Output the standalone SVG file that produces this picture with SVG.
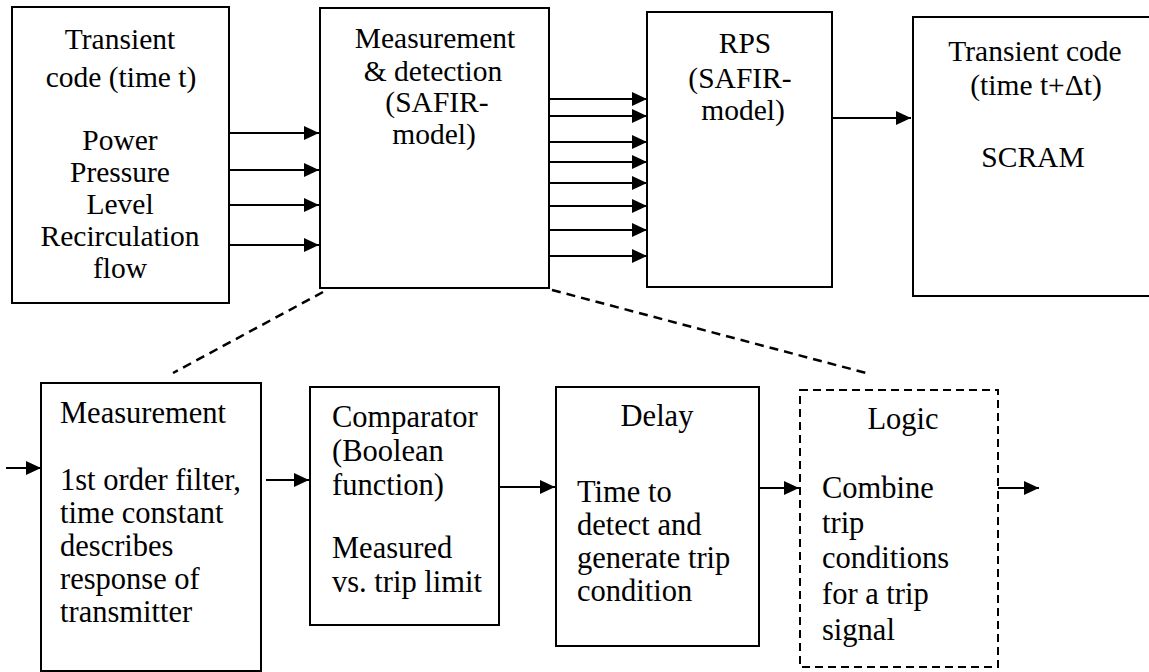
<svg xmlns="http://www.w3.org/2000/svg" width="1149" height="672" viewBox="0 0 1149 672">
<style>
  .box { fill: #fff; stroke: #000; stroke-width: 2; }
  .dbox { fill: #fff; stroke: #000; stroke-width: 2; stroke-dasharray: 8 5; }
  .t { font-family: 'Liberation Serif', 'Times New Roman', serif; font-size: 29.5px; fill: #000; }
  .b { font-size: 30.5px; }
  .c { text-anchor: middle; }
  .arr { stroke: #000; stroke-width: 2; fill: none; marker-end: url(#ah); }
  .dash { stroke: #000; stroke-width: 2.5; fill: none; stroke-dasharray: 9 6; }
</style>
<defs>
  <marker id="ah" markerUnits="userSpaceOnUse" markerWidth="16" markerHeight="16" viewBox="0 0 16 16" refX="15" refY="8" orient="auto">
    <path d="M0,1 L15,8 L0,15 Z" fill="#000"/>
  </marker>
</defs>
<rect width="1149" height="672" fill="#fff"/>

<g id="transient-t" class="t">
  <rect class="box" x="12" y="7" width="217" height="296"/>
  <text class="c" x="120" y="49">Transient</text>
  <text class="c" x="121" y="87">code (time t)</text>
  <text class="c" x="120" y="150">Power</text>
  <text class="c" x="120" y="182">Pressure</text>
  <text class="c" x="120" y="214">Level</text>
  <text class="c" x="120" y="246">Recirculation</text>
  <text class="c" x="120" y="278">flow</text>
</g>

<g id="measurement-detection" class="t">
  <rect class="box" x="320" y="8" width="229" height="280"/>
  <text class="c" x="435" y="48">Measurement</text>
  <text class="c" x="433" y="81">&amp; detection</text>
  <text class="c" x="437" y="112">(SAFIR-</text>
  <text class="c" x="434" y="144">model)</text>
</g>

<g id="rps" class="t">
  <rect class="box" x="647" y="12" width="185" height="275"/>
  <text class="c" x="745" y="53">RPS</text>
  <text class="c" x="740" y="88">(SAFIR-</text>
  <text class="c" x="743" y="120">model)</text>
</g>

<g id="transient-tdt" class="t">
  <rect class="box" x="913" y="17" width="245" height="279"/>
  <text class="c" x="1035" y="61">Transient code</text>
  <text class="c" x="1036" y="95">(time t+Δt)</text>
  <text class="c" x="1033" y="167">SCRAM</text>
</g>

<g id="measurement" class="t b">
  <rect class="box" x="41" y="383" width="220" height="288"/>
  <text x="60" y="423">Measurement</text>
  <text x="60" y="490">1st order filter,</text>
  <text x="60" y="523">time constant</text>
  <text x="60" y="556">describes</text>
  <text x="60" y="589">response of</text>
  <text x="60" y="622">transmitter</text>
</g>

<g id="comparator" class="t b">
  <rect class="box" x="310" y="387" width="189" height="238"/>
  <text x="332" y="427">Comparator</text>
  <text x="332" y="461">(Boolean</text>
  <text x="332" y="495">function)</text>
  <text x="332" y="558">Measured</text>
  <text x="332" y="592">vs. trip limit</text>
</g>

<g id="delay" class="t b">
  <rect class="box" x="556" y="387" width="203" height="259"/>
  <text class="c" x="657" y="426">Delay</text>
  <text x="577" y="502">Time to</text>
  <text x="577" y="535">detect and</text>
  <text x="577" y="568">generate trip</text>
  <text x="577" y="601">condition</text>
</g>

<g id="logic" class="t b">
  <rect class="dbox" x="800" y="390" width="198" height="277"/>
  <text class="c" x="903" y="429">Logic</text>
  <text x="822" y="498">Combine</text>
  <text x="822" y="533">trip</text>
  <text x="822" y="568">conditions</text>
  <text x="822" y="604">for a trip</text>
  <text x="822" y="640">signal</text>
</g>

<g id="connectors">
  <line class="arr" x1="229" y1="133" x2="319" y2="133"/>
  <line class="arr" x1="229" y1="170" x2="319" y2="170"/>
  <line class="arr" x1="229" y1="205" x2="319" y2="205"/>
  <line class="arr" x1="229" y1="245" x2="319" y2="245"/>

  <line class="arr" x1="549" y1="99" x2="647" y2="99"/>
  <line class="arr" x1="549" y1="116" x2="647" y2="116"/>
  <line class="arr" x1="549" y1="142" x2="647" y2="142"/>
  <line class="arr" x1="549" y1="162" x2="647" y2="162"/>
  <line class="arr" x1="549" y1="183" x2="647" y2="183"/>
  <line class="arr" x1="549" y1="206" x2="647" y2="206"/>
  <line class="arr" x1="549" y1="230" x2="647" y2="230"/>
  <line class="arr" x1="549" y1="256" x2="647" y2="256"/>

  <line class="arr" x1="832" y1="118" x2="911" y2="118"/>

  <line class="dash" x1="323" y1="292" x2="173" y2="373"/>
  <line class="dash" x1="552" y1="290" x2="870" y2="374"/>

  <line class="arr" x1="6" y1="468" x2="41" y2="468"/>
  <line class="arr" x1="266" y1="480" x2="309" y2="480"/>
  <line class="arr" x1="499" y1="487" x2="555" y2="487"/>
  <line class="arr" x1="759" y1="488" x2="799" y2="488"/>
  <line class="arr" x1="998" y1="488" x2="1039" y2="488"/>
</g>
</svg>
